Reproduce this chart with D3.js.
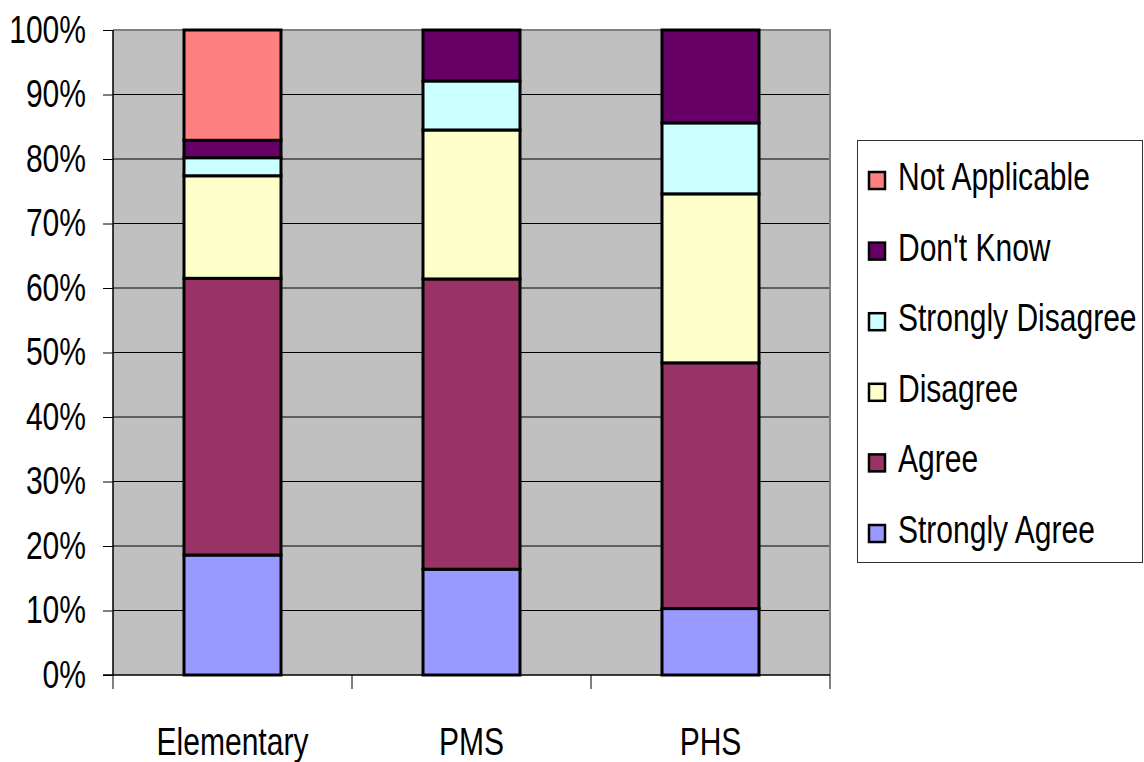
<!DOCTYPE html>
<head>
<style>
  body { margin: 0; background: #fff; }
  text { font-family: "Liberation Sans", Arial, sans-serif; }
</style>
</head>
<body>
<script src="https://d3js.org/d3.v7.min.js"></script>
<script>
// data (percent of respondents)
var schools = ["Elementary", "PMS", "PHS"];
var responses = ["Strongly Agree", "Agree", "Disagree", "Strongly Disagree", "Don't Know", "Not Applicable"];
var stronglyAgree    = [18.6, 16.4, 10.3];
var agree            = [42.9, 45.0, 38.1];
var disagree         = [15.9, 23.1, 26.2];
var stronglyDisagree = [2.8, 7.6, 11.0];
var dontKnow         = [2.7, 7.9, 14.4];
var notApplicable    = [17.1, 0, 0];
var yTicks = [0, 10, 20, 30, 40, 50, 60, 70, 80, 90, 100];
var colors = ["#9999FF", "#993366", "#FFFFCC", "#CCFFFF", "#660066", "#FF8080"];

var series = [stronglyAgree, agree, disagree, stronglyDisagree, dontKnow, notApplicable];
var rows = schools.map(function(s, i) {
    var r = {school: s};
    responses.forEach(function(k, j) { r[k] = series[j][i]; });
    return r;
});

var width = 1144, height = 762;
var plot = {left: 113, right: 830, top: 30, bottom: 675};
var sx = 0.79; // the original font is a condensed one, squeeze regular glyphs
var fs = 38;

var svg = d3.select("body").append("svg")
    .attr("width", width)
    .attr("height", height);

var x = d3.scaleBand().domain(schools).range([plot.left, plot.right]).paddingInner(0).paddingOuter(0);
var y = d3.scaleLinear().domain([0, 100]).range([plot.bottom, plot.top]);
var color = d3.scaleOrdinal().domain(responses).range(colors);

// plot background
svg.append("rect")
    .attr("x", plot.left).attr("y", plot.top)
    .attr("width", plot.right - plot.left).attr("height", plot.bottom - plot.top)
    .attr("fill", "#C0C0C0");

// gridlines
svg.append("g").selectAll("line")
    .data(yTicks.filter(function(d) { return d > 0 && d < 100; }))
    .enter().append("line")
    .attr("x1", plot.left).attr("x2", plot.right)
    .attr("y1", function(d) { return y(d); }).attr("y2", function(d) { return y(d); })
    .attr("stroke", "#000").attr("stroke-width", 1);

// grey border top / right
svg.append("path")
    .attr("d", "M" + plot.left + "," + plot.top + "H" + plot.right + "V" + plot.bottom)
    .attr("fill", "none").attr("stroke", "#808080").attr("stroke-width", 2);

// stacked bars
var stack = d3.stack().keys(responses);
var layers = stack(rows);
var barW = 97;

svg.append("g").selectAll("g")
    .data(layers)
    .enter().append("g")
    .attr("fill", function(d) { return color(d.key); })
    .selectAll("rect")
    .data(function(d) { return d.filter(function(p) { return p[1] - p[0] > 0; }); })
    .enter().append("rect")
    .attr("x", function(d) { return x(d.data.school) + x.bandwidth() / 2 - barW / 2; })
    .attr("y", function(d) { return y(d[1]); })
    .attr("width", barW)
    .attr("height", function(d) { return y(d[0]) - y(d[1]); })
    .attr("stroke", "#000")
    .attr("stroke-width", 3);

// y axis
var yAxis = svg.append("g")
    .attr("transform", "translate(" + plot.left + ",0)")
    .call(d3.axisLeft(y).tickValues(yTicks).tickSize(10)
        .tickFormat(function(d) { return d + "%"; }));
yAxis.select(".domain").attr("stroke", "#000").attr("stroke-width", 1.5)
    .attr("d", "M0," + plot.top + "V" + plot.bottom);
yAxis.selectAll(".tick line").attr("stroke", "#000");
yAxis.selectAll("text")
    .attr("font-size", fs).attr("fill", "#000")
    .attr("font-family", null)
    .attr("x", -27 / sx)
    .attr("transform", "scale(" + sx + ",1)");

// x axis
var xAxis = svg.append("g")
    .attr("transform", "translate(0," + plot.bottom + ")");
xAxis.append("line")
    .attr("x1", plot.left - 10).attr("x2", plot.right)
    .attr("stroke", "#000").attr("stroke-width", 1.5);
xAxis.selectAll(".sep")
    .data(schools.concat(["end"]))
    .enter().append("line")
    .attr("class", "sep")
    .attr("x1", function(d, i) { return plot.left + i * x.bandwidth(); })
    .attr("x2", function(d, i) { return plot.left + i * x.bandwidth(); })
    .attr("y1", 0).attr("y2", 14)
    .attr("stroke", "#000");
xAxis.selectAll(".lbl")
    .data(schools)
    .enter().append("text")
    .attr("class", "lbl")
    .attr("x", function(d) { return (x(d) + x.bandwidth() / 2) / sx; })
    .attr("y", 80)
    .attr("transform", "scale(" + sx + ",1)")
    .attr("text-anchor", "middle")
    .attr("font-size", fs)
    .text(function(d) { return d; });

// legend
var legend = svg.append("g");
legend.append("rect")
    .attr("x", 857.5).attr("y", 140.5)
    .attr("width", 285).attr("height", 422)
    .attr("fill", "#fff").attr("stroke", "#333").attr("stroke-width", 1);

var legItems = legend.selectAll(".item")
    .data(responses.slice().reverse())
    .enter().append("g")
    .attr("class", "item")
    .attr("transform", function(d, i) { return "translate(869," + (177 + i * 70.6) + ")"; });
legItems.append("rect")
    .attr("x", 0).attr("y", -5)
    .attr("width", 16).attr("height", 17)
    .attr("fill", function(d) { return color(d); })
    .attr("stroke", "#000").attr("stroke-width", 2.5);
legItems.append("text")
    .attr("x", 29 / sx).attr("y", 13)
    .attr("transform", "scale(" + sx + ",1)")
    .attr("font-size", fs)
    .text(function(d) { return d; });
</script>
</body>
